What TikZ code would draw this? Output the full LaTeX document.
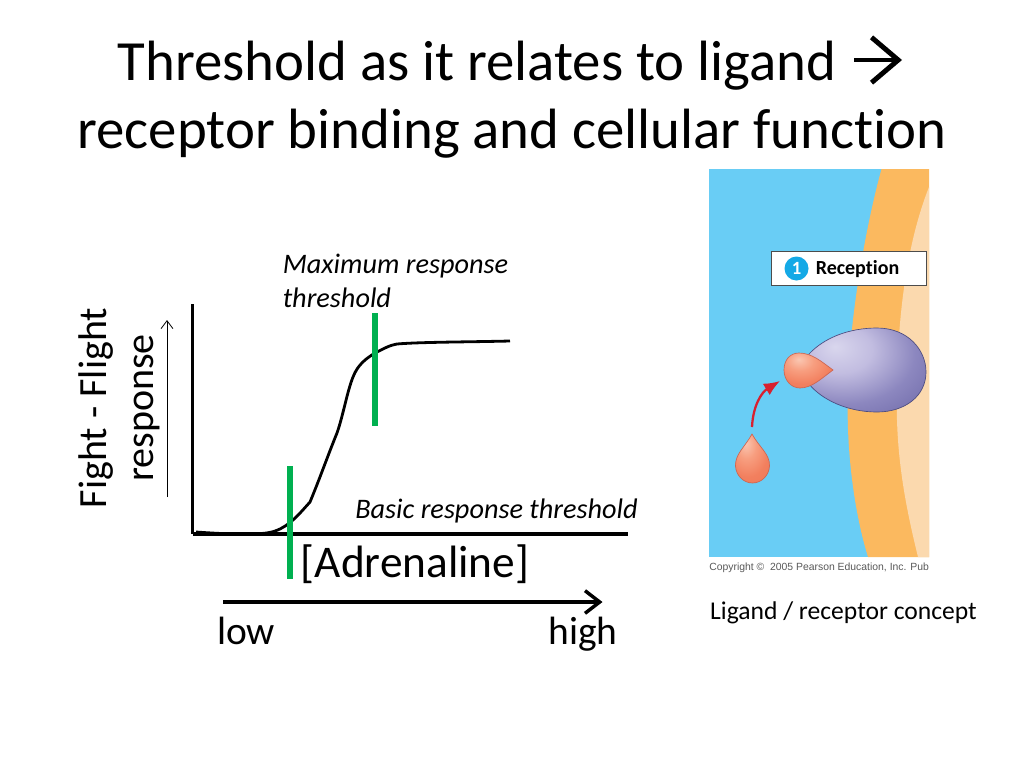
\documentclass[tikz,border=0pt]{standalone}
\usepackage{fontspec}
\setmainfont[Ligatures=NoCommon]{Carlito}
\newfontfamily\arialf{Liberation Sans}
\usetikzlibrary{arrows.meta}
\definecolor{skyb}{HTML}{69CDF5}
\definecolor{memb}{HTML}{FBB95F}
\definecolor{cyto}{HTML}{FBD9AE}
\definecolor{grn}{HTML}{00B050}
\definecolor{redarr}{HTML}{D8202F}
\definecolor{numc}{HTML}{14A9E6}
\pgfdeclareradialshading{blobsh}{\pgfpoint{-14bp}{14bp}}{
 rgb(0bp)=(.85,.84,.93); rgb(14bp)=(.76,.74,.88); rgb(30bp)=(.55,.53,.75); rgb(48bp)=(.42,.40,.65); rgb(62bp)=(.36,.34,.58); rgb(100bp)=(.36,.34,.58)}
\pgfdeclareradialshading{ligsh}{\pgfpoint{-10bp}{16bp}}{
 rgb(0bp)=(.98,.78,.70); rgb(14bp)=(.97,.62,.50); rgb(30bp)=(.95,.50,.37); rgb(60bp)=(.92,.44,.32); rgb(100bp)=(.92,.44,.32)}
\tikzset{
 titlet/.style={inner sep=0pt,font=\fontsize{42.6}{50}\selectfont,anchor=center},
 bodyt/.style={inner sep=0pt,font=\fontsize{34}{40}\selectfont,anchor=center},
 sidet/.style={inner sep=0pt,font=\fontsize{30}{36}\selectfont,anchor=center,rotate=90},
 axist/.style={inner sep=0pt,font=\fontsize{29.6}{32}\selectfont,anchor=base},
 notet/.style={inner sep=0pt,font=\itshape\fontsize{21.2}{25.5}\selectfont,anchor=west,align=left},
 axisl/.style={line width=2.4pt,black},
 curvel/.style={line width=2.1pt,black,line join=round},
 thresh/.style={line width=5pt,grn},
 ligand/.style={draw={rgb,1:red,.80;green,.40;blue,.32},line width=0.5pt,shading=ligsh},
}
\begin{document}
\begin{tikzpicture}[x=0.75pt,y=-0.75pt]
\useasboundingbox (0,0) rectangle (1024,768);
\fill[white] (0,0) rectangle (1024,768);
% titles
\node[titlet] (t1) at (477,66) {Threshold as it relates to ligand};
\coordinate (ars) at (854,60);
\coordinate (are) at (902,60);
\draw[line width=3.7pt,-{Straight Barb[length=20pt,width=34pt,line width=3.7pt]}] (ars) -- (are);
\node[titlet] (t2) at (512,134) {receptor binding and cellular function};
% picture
\fill[skyb] (709,169) rectangle (929,557);
\fill[memb] (881.5,169) -- (929,169) -- (929,557) -- (868,557) .. controls (852,505) and (846,440) .. (848,390) .. controls (849,320) and (866,225) .. (881.5,169) -- cycle;
\fill[cyto] (929,187) -- (929,557) -- (918,557) .. controls (904,500) and (895,450) .. (897,385) .. controls (898,310) and (908,240) .. (929,187) -- cycle;
% receptor
\path[shading=blobsh,draw={rgb,1:red,.30;green,.30;blue,.50},line width=0.5pt]
 (809,354) .. controls (825,337) and (850,328) .. (877,328) .. controls (908,328) and (926,350) .. (926,372)
 .. controls (926,396) and (905,412) .. (877,412) .. controls (848,412) and (822,400) .. (809,384) -- cycle;
% bound ligand
\path[ligand]
 (833,370) .. controls (822,362) and (812,353) .. (799,353) .. controls (790,353) and (784,360) .. (784,370)
 .. controls (784,380) and (791,388) .. (800,388) .. controls (812,388) and (822,378) .. (833,370) -- cycle;
% free ligand
\path[ligand]
 (752,434) .. controls (745,447) and (735,454) .. (735.5,466) .. controls (736,476) and (744,483) .. (752.5,483)
 .. controls (761,483) and (769,476) .. (769.5,466) .. controls (770,454) and (759,447) .. (752,434) -- cycle;
% arrow
\coordinate (rs) at (752,427);
\coordinate (re) at (780,381);
\draw[redarr,line width=1.7pt,-{Latex[length=12pt,width=10pt]}] (rs) .. controls (753,405) and (762,392) .. (re);
% reception box
\node[draw=black!70,line width=0.6pt,fill=white,minimum width=116pt,minimum height=25.5pt,inner sep=0pt] (rbox) at (849,268.5) {};
\node[circle,fill=numc,text=white,inner sep=0pt,minimum size=18pt,font=\bfseries\fontsize{14}{14}\selectfont] (rnum) at (796.5,268.5) {1};
\node[inner sep=0pt,anchor=west,font=\bfseries\fontsize{15}{16}\selectfont] (rtxt) at (815.5,269) {Reception};
\node[inner sep=0pt,anchor=west,font=\arialf\fontsize{7.8}{10}\selectfont,text=black!65] (copy) at (709,568) {Copyright ©\ \ 2005 Pearson Education, Inc. Pub};
\node[inner sep=0pt,anchor=center,font=\fontsize{19.2}{22}\selectfont] (cap) at (843.5,612.5) {Ligand / receptor concept};
% axes
\coordinate (o) at (192.5,534);
\coordinate (yt) at (192.5,304);
\coordinate (xe) at (628,534);
\draw[axisl] (yt) -- (o);
\draw[axisl] (o) -- (xe);
\node[sidet] (ff) at (96,408) {Fight - Flight};
\node[sidet] (resp) at (147,408) {response};
\coordinate (ua) at (167,497);
\coordinate (ub) at (167,320);
\draw[line width=0.7pt,-{Straight Barb[length=6pt,width=9pt,line width=0.6pt]}] (ua) -- (ub);
% curve
\coordinate (c0) at (196,532);
\coordinate (c5) at (510,341);
\draw[curvel] (c0) .. controls (225,534) and (262,536) .. (275,531) .. controls (290,526) and (300,513) .. (310,502) .. controls (320,478) and (328,455) .. (337,433) .. controls (343,416) and (347,392) .. (353,377) .. controls (358,364) and (367,358) .. (375,353) .. controls (383,349) and (390,345) .. (397,344) .. controls (420,342) and (470,342) .. (c5);
% thresholds
\coordinate (g1a) at (290,466);
\coordinate (g1b) at (290,579);
\coordinate (g2a) at (375,313);
\coordinate (g2b) at (375,426);
\draw[thresh] (g1a) -- (g1b);
\draw[thresh] (g2a) -- (g2b);
% labels
\node[notet] (maxr) at (282.5,281) {Maximum response\\threshold};
\node[notet] (basic) at (355,511) {Basic response threshold};
\node[bodyt] (adr) at (415,564) {[Adrenaline]};
\coordinate (ha) at (223,602);
\coordinate (hb) at (602.5,602);
\draw[line width=2.6pt,-{Straight Barb[length=11pt,width=17pt,line width=2.6pt]}] (ha) -- (hb);
\node[axist] (low) at (246,644) {low};
\node[axist] (high) at (583,644) {high};
\end{tikzpicture}
\end{document}
